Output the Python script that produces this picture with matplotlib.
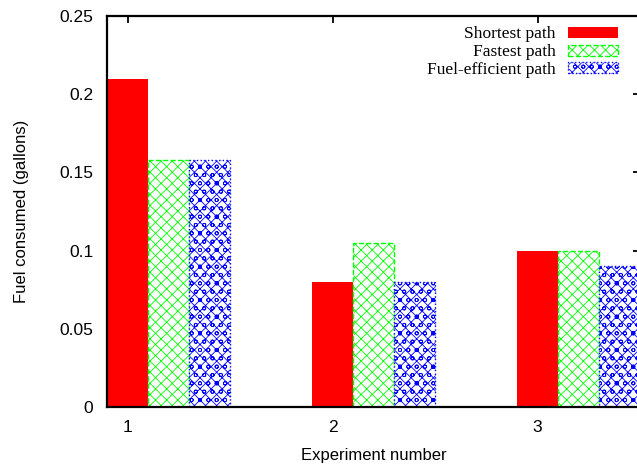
import numpy as np
import matplotlib
matplotlib.use('Agg')
import matplotlib.pyplot as plt

# data
experiments = ['1', '2', '3']
series = ['Shortest path', 'Fastest path', 'Fuel-efficient path']
shortest = [0.21, 0.08, 0.10]
fastest = [0.158, 0.105, 0.10]
fuel_efficient = [0.158, 0.08, 0.09]

plt.rcParams['font.family'] = 'Liberation Sans'

fig = plt.figure(figsize=(6.37, 4.66), dpi=100)
ax = fig.add_axes([0.168, 0.1266, 0.837, 0.839])

group_start = np.arange(len(experiments)) * 5
width = 1.0

ax.bar(group_start + 0.5, shortest, width, color='#ff0000', edgecolor='#ff0000',
       linewidth=0, label=series[0])
plt.rcParams['hatch.linewidth'] = 0.6
ax.bar(group_start + 1.5, fastest, width, color='white', edgecolor='#00ff00',
       hatch='xxx', linestyle='--', linewidth=1, label=series[1])
plt.rcParams['hatch.linewidth'] = 0.6
ax.bar(group_start + 2.5, fuel_efficient, width, color='white', edgecolor='#0000ff',
       hatch='xxxoo', linestyle=':', linewidth=1, label=series[2])

ax.set_xlim(0, 13)
ax.set_ylim(0, 0.25)
ax.set_xticks(group_start + 0.5)
ax.set_xticklabels(experiments)
ax.set_yticks([0, 0.05, 0.1, 0.15, 0.2, 0.25])
ax.set_yticklabels(['0', '0.05', '0.1', '0.15', '0.2', '0.25'])
ax.set_axisbelow(True)

ax.tick_params(axis='both', direction='in', length=5, width=1.3, labelsize=12.5,
               top=True, right=True)
ax.tick_params(axis='y', pad=10)
ax.tick_params(axis='x', pad=9)
for s in ax.spines.values():
    s.set_linewidth(1.6)

ax.set_xlabel('Experiment number', fontsize=12, labelpad=10)
ax.set_ylabel('Fuel consumed (gallons)', fontsize=12, labelpad=22)

leg = ax.legend(loc='upper right', markerfirst=False, frameon=False,
                prop={'family': 'Liberation Serif', 'size': 12.5},
                handlelength=2.9, handleheight=0.6, labelspacing=0.1,
                handletextpad=0.7, borderaxespad=0.2, bbox_to_anchor=(0.978, 1.0))

fig.savefig('out.png', dpi=100)
